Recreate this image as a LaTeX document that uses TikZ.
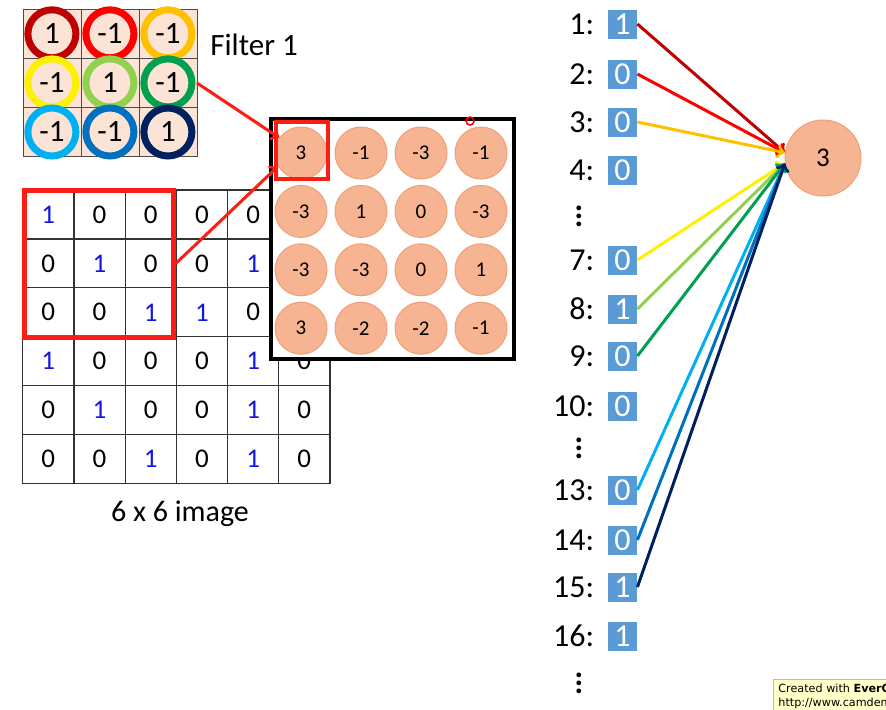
\documentclass[tikz,border=0pt]{standalone}
\usepackage{fontspec}
\setmainfont{Carlito}
\newfontfamily\wmfont{DejaVu Sans}
\usetikzlibrary{positioning}

\definecolor{peach}{RGB}{251,228,214}
\definecolor{salmon}{RGB}{247,180,146}
\definecolor{salmonedge}{RGB}{238,160,120}
\definecolor{boxblue}{RGB}{91,155,213}
\definecolor{oneblue}{RGB}{20,20,230}
\definecolor{framered}{RGB}{250,30,20}
\definecolor{cDarkRed}{RGB}{192,0,0}
\definecolor{cRed}{RGB}{255,0,0}
\definecolor{cGold}{RGB}{255,192,0}
\definecolor{cYellow}{RGB}{255,240,0}
\definecolor{cLime}{RGB}{146,208,80}
\definecolor{cGreen}{RGB}{0,160,80}
\definecolor{cSky}{RGB}{0,176,240}
\definecolor{cBlue}{RGB}{0,112,192}
\definecolor{cNavy}{RGB}{0,32,96}
\definecolor{wmfill}{RGB}{255,255,200}
\definecolor{wmedge}{RGB}{200,190,120}

\newcommand\pix[1]{\ifnum#1=1 \textcolor{oneblue}{1}\else 0\fi}

\tikzset{
  fcell/.style={draw=black!70, fill=peach, minimum width=29pt, minimum height=24.5pt,
    inner sep=0pt, outer sep=0pt},
  ring/.style={circle, draw=#1, line width=3.5pt, fill=peach, minimum size=24pt,
    inner sep=0pt, font=\fontsize{15.5}{18}\selectfont},
  icell/.style={draw=black!80, line width=0.6pt, minimum width=25.6pt,
    minimum height=24.45pt, inner sep=0pt, outer sep=0pt,
    font=\fontsize{13.5}{16}\selectfont},
  fmcirc/.style={circle, fill=salmon, draw=salmonedge, line width=0.5pt,
    minimum size=26pt, inner sep=0pt, font=\fontsize{10.5}{12}\selectfont},
  bit/.style={fill=boxblue, text=white, minimum width=14.5pt, minimum height=14.5pt,
    inner sep=0pt, font=\fontsize{16}{18}\selectfont},
  idx/.style={font=\fontsize{16}{18}\selectfont, inner sep=1pt},
  moredots/.style={font=\fontsize{16}{18}\selectfont\bfseries},
  wire/.style={->, line width=1.5pt},
  redarrow/.style={->, framered, line width=1.5pt},
}

\begin{document}
\begin{tikzpicture}[x=0.5pt, y=-0.5pt]
  \useasboundingbox (0,0) rectangle (886,709);

  % filter
  \foreach \v/\c [count=\i from 0] in {1/cDarkRed, -1/cRed, -1/cGold,
      -1/cYellow, 1/cLime, -1/cGreen, -1/cSky, -1/cBlue, 1/cNavy} {
    \pgfmathtruncatemacro\r{int(\i/3)+1}
    \pgfmathtruncatemacro\k{mod(\i,3)+1}
    \node[fcell] (f-\r-\k) at (51.9+58*\k-58, 33.8+49.1*\r-49.1) {};
  }
  \foreach \v/\c [count=\i from 0] in {1/cDarkRed, -1/cRed, -1/cGold,
      -1/cYellow, 1/cLime, -1/cGreen, -1/cSky, -1/cBlue, 1/cNavy} {
    \pgfmathtruncatemacro\r{int(\i/3)+1}
    \pgfmathtruncatemacro\k{mod(\i,3)+1}
    \node[ring=\c] (r-\r-\k) at (f-\r-\k) {\v};
  }
  \node[font=\fontsize{15.5}{18}\selectfont, anchor=west, inner sep=0pt] (flabel)
    at (210,45) {Filter 1};

  % 6 x 6 image
  \foreach \v [count=\i from 0] in {1,0,0,0,0,1, 0,1,0,0,1,0, 0,0,1,1,0,0,
      1,0,0,0,1,0, 0,1,0,0,1,0, 0,0,1,0,1,0} {
    \pgfmathtruncatemacro\r{int(\i/6)+1}
    \pgfmathtruncatemacro\k{mod(\i,6)+1}
    \node[icell] (p-\r-\k) at (48.3+51.2*\k-51.2, 214.5+48.9*\r-48.9) {\pix{\v}};
  }
  \node[font=\fontsize{15}{18}\selectfont] (cap) at (180,514) {6 x 6 image};
  \node[draw=framered, line width=2.5pt, minimum width=74.25pt, minimum height=73.25pt,
    inner sep=0pt] (win) at (98.75,263.75) {};

  % feature map
  \node[draw, line width=2pt, fill=white, minimum width=121.5pt, minimum height=120pt,
    inner sep=0pt] (fmap) at (392.5,239) {};
  \foreach \v [count=\i from 0] in {3,-1,-3,-1, -3,1,0,-3, -3,-3,0,1, 3,-2,-2,-1} {
    \pgfmathtruncatemacro\r{int(\i/4)+1}
    \pgfmathtruncatemacro\k{mod(\i,4)+1}
    \node[fmcirc] (fm-\r-\k) at (301+60*\k-60, 153+58.4*\r-58.4) {\v};
  }
  \node[draw=framered, line width=2pt, minimum width=26pt, minimum height=28.5pt,
    inner sep=0pt] (sel) at (302,150.5) {};
  \node[circle, draw=red, line width=0.8pt, minimum size=4pt, inner sep=0pt] (cursor)
    at (470,121) {};

  \draw[redarrow] (f-2-3.east) -- (fm-1-1.145);
  \draw[redarrow] (win.east) -- (fm-1-1.210);

  % flattened input
  \foreach \n/\v/\y in {1/1/24, 2/0/74, 3/0/122, 4/0/170, 7/0/260, 8/1/309, 9/0/356,
      10/0/406, 13/0/490, 14/0/540, 15/1/587, 16/1/636} {
    \node[bit] (b\n) at (622.5,\y) {\v};
    \node[idx, left=5.5pt of b\n] (l\n) {\n:};
  }
  \node[moredots] (dots1) at (579,210) {$\vdots$};
  \node[moredots] (dots2) at (579,442) {$\vdots$};
  \node[moredots] (dots3) at (579,677) {$\vdots$};

  \node[circle, fill=salmon, draw=salmonedge, line width=0.5pt, minimum size=38pt,
    font=\fontsize{13.5}{16}\selectfont] (out) at (823,158) {3};

  \draw[wire, cDarkRed] (b1.east) -- (out.172);
  \draw[wire, cRed] (b2.east) -- (out.172);
  \draw[wire, cGold] (b3.east) -- (out.172);
  \draw[wire, cYellow] (b7.east) -- (out.188);
  \draw[wire, cLime] (b8.east) -- (out.188);
  \draw[wire, cGreen] (b9.east) -- (out.188);
  \draw[wire, cSky] (b13.east) -- (out.188);
  \draw[wire, cBlue] (b14.east) -- (out.188);
  \draw[wire, cNavy] (b15.east) -- (out.188);

  % watermark
  \begin{scope}
    \clip (0,0) rectangle (886,709);
    \node[draw=wmedge, fill=wmfill, anchor=north west, align=left, inner sep=2.5pt,
      font=\wmfont\fontsize{5.6}{6.6}\selectfont] (wm) at (773,679)
      {Created with \textbf{EverCam}\\http://www.camdemy.com};
  \end{scope}
\end{tikzpicture}
\end{document}
